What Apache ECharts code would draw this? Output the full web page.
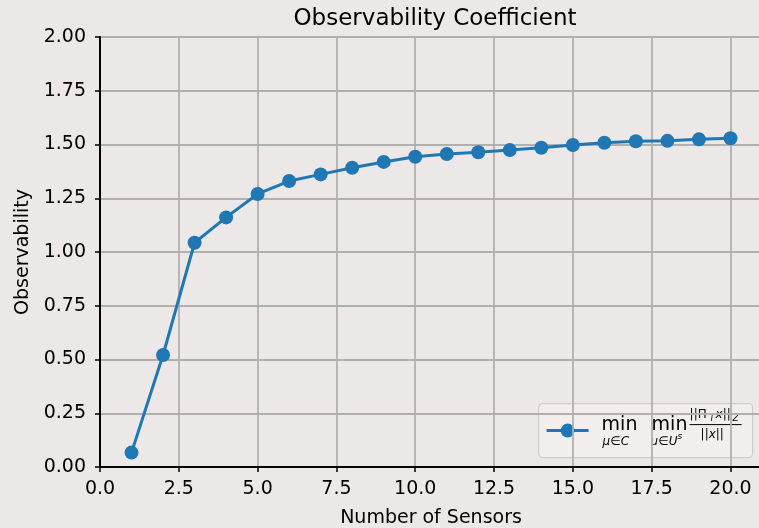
<!DOCTYPE html>
<html>
<head>
<meta charset="utf-8">
<script src="https://cdn.jsdelivr.net/npm/echarts@6/dist/echarts.min.js"></script>
<style>
  html, body { margin: 0; padding: 0; background: #ede8e8; }
  #main { width: 759px; height: 528px; }
</style>
</head>
<body>
<div id="main"></div>
<script>
// number of sensors and observability values
var sensors = [1, 2, 3, 4, 5, 6, 7, 8, 9, 10, 11, 12, 13, 14, 15, 16, 17, 18, 19, 20];
var observability = [0.067, 0.521, 1.043, 1.161, 1.270, 1.330, 1.361, 1.392, 1.419, 1.443,
                     1.456, 1.464, 1.474, 1.485, 1.498, 1.508, 1.515, 1.517, 1.524, 1.529];
var xTicks = [0, 2.5, 5, 7.5, 10, 12.5, 15, 17.5, 20];

var font = 'DejaVu Sans';
var blue = '#1f77b4';

var chart = echarts.init(document.getElementById('main'));

var points = sensors.map(function (s, i) { return [s, observability[i]]; });

chart.setOption({
    backgroundColor: '#ede8e8',
    animation: false,
    title: {
        text: 'Observability Coefficient',
        left: 430,
        textAlign: 'center',
        top: 3,
        textStyle: { fontFamily: font, fontSize: 23, fontWeight: 'normal', color: '#000' }
    },
    grid: {
        left: 100, right: -3, top: 37, bottom: 61,
        outerBoundsMode: 'none',
        containLabel: false,
        show: true, borderColor: '#000', borderWidth: 2
    },
    xAxis: {
        type: 'value',
        min: 0, max: 21, interval: 2.5,
        name: 'Number of Sensors',
        nameLocation: 'middle',
        nameGap: 42,
        nameTextStyle: { fontFamily: font, fontSize: 19, color: '#000' },
        axisLine: { lineStyle: { color: '#000', width: 2 } },
        axisTick: { length: 5, lineStyle: { color: '#000', width: 1.5 } },
        axisLabel: {
            fontFamily: font, fontSize: 19, color: '#000', margin: 13,
            formatter: function (v) { return xTicks.indexOf(v) >= 0 ? v.toFixed(1) : ''; }
        },
        splitLine: { lineStyle: { color: '#b0b0b0', width: 1.8 } }
    },
    yAxis: {
        type: 'value',
        min: 0, max: 2, interval: 0.25,
        name: 'Observability',
        nameLocation: 'middle',
        nameGap: 62,
        nameTextStyle: { fontFamily: font, fontSize: 19, color: '#000' },
        axisLine: { lineStyle: { color: '#000', width: 2 } },
        axisTick: { show: true, length: 5, lineStyle: { color: '#000', width: 1.5 } },
        axisLabel: {
            fontFamily: font, fontSize: 19, color: '#000', margin: 14,
            formatter: function (v) { return v.toFixed(2); }
        },
        splitLine: { lineStyle: { color: '#b0b0b0', width: 1.8 } }
    },
    series: [{
        type: 'line',
        data: points,
        symbol: 'circle',
        symbolSize: 14,
        itemStyle: { color: blue },
        lineStyle: { color: blue, width: 3 }
    }],
    // legend drawn by hand so the math label can be laid out
    graphic: [{
        type: 'group',
        left: 538, top: 403,
        children: [
            { type: 'rect', shape: { x: 0, y: 0, width: 214, height: 54, r: 4 },
              style: { fill: 'rgba(242,239,239,0.85)', stroke: '#cccccc', lineWidth: 1.2 } },
            { type: 'line', shape: { x1: 8, y1: 27, x2: 50, y2: 27 },
              style: { stroke: blue, lineWidth: 3 } },
            { type: 'circle', shape: { cx: 29, cy: 27, r: 7 }, style: { fill: blue } },
            { type: 'text', x: 63, y: 12,
              style: { text: 'min', font: '19px DejaVu Sans', fill: '#000' } },
            { type: 'text', x: 64, y: 32,
              style: { text: 'μ∈C', font: 'italic 12px DejaVu Sans', fill: '#000' } },
            { type: 'text', x: 113, y: 12,
              style: { text: 'min', font: '19px DejaVu Sans', fill: '#000' } },
            { type: 'text', x: 112, y: 32,
              style: { text: 'u∈U', font: 'italic 12px DejaVu Sans', fill: '#000' } },
            { type: 'text', x: 139, y: 29,
              style: { text: 's', font: 'italic 9px DejaVu Sans', fill: '#000' } },
            { type: 'text', x: 151, y: 5,
              style: { text: '||Π', font: '12px DejaVu Sans', fill: '#000' } },
            { type: 'text', x: 171, y: 11,
              style: { text: 'T', font: 'italic 8px DejaVu Sans', fill: '#000' } },
            { type: 'text', x: 177, y: 5,
              style: { text: 'x||', font: 'italic 12px DejaVu Sans', fill: '#000' } },
            { type: 'text', x: 194, y: 11,
              style: { text: 'Z', font: 'italic 9px DejaVu Sans', fill: '#000' } },
            { type: 'line', shape: { x1: 151, y1: 21, x2: 203, y2: 21 },
              style: { stroke: '#000', lineWidth: 1 } },
            { type: 'text', x: 162, y: 25,
              style: { text: '||x||', font: 'italic 12px DejaVu Sans', fill: '#000' } }
        ]
    }]
});
</script>
</body>
</html>
